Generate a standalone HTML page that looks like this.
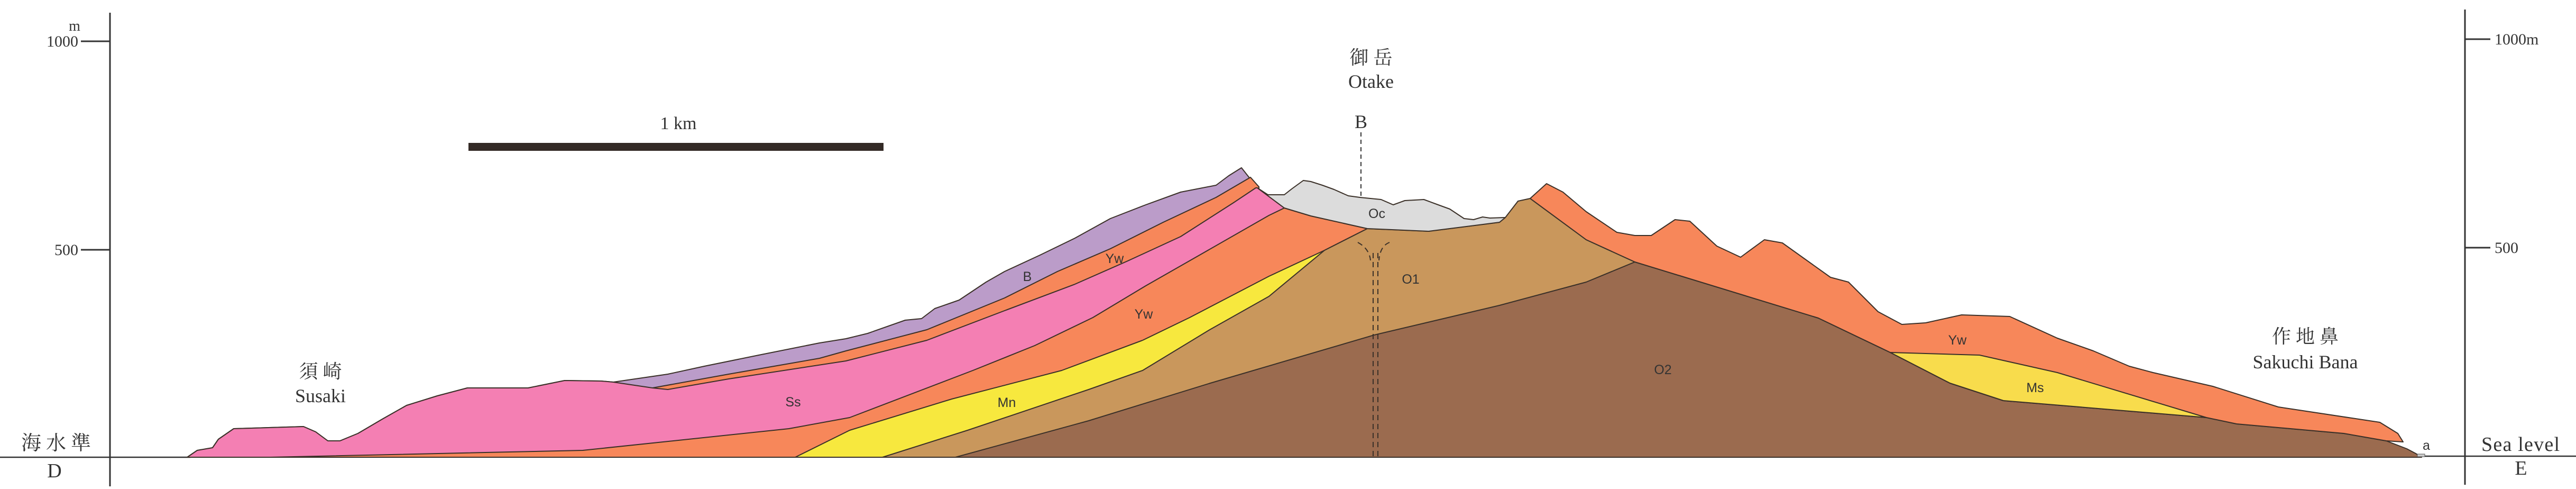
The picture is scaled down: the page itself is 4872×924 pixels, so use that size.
<!DOCTYPE html>
<html><head><meta charset="utf-8"><style>
html,body{margin:0;padding:0;background:#fff;}
svg{display:block;}
.s{font-family:"Liberation Serif","Noto Serif CJK SC",serif;fill:#333;}
.l{font-family:"Liberation Sans",sans-serif;fill:#333;font-size:25px;}
.g{stroke:#3a3028;stroke-width:2;stroke-linejoin:round;}
</style></head><body>
<svg width="4872" height="924" viewBox="0 0 4872 924" xmlns="http://www.w3.org/2000/svg">
<rect width="4872" height="924" fill="#fff"/>
<line x1="208" y1="24" x2="208" y2="919" stroke="#333" stroke-width="3"/>
<line x1="153" y1="78" x2="208" y2="78" stroke="#333" stroke-width="3"/>
<line x1="153" y1="472" x2="208" y2="472" stroke="#333" stroke-width="3"/>
<line x1="4662" y1="18" x2="4662" y2="916" stroke="#333" stroke-width="3"/>
<line x1="4662" y1="74" x2="4710" y2="74" stroke="#333" stroke-width="3"/>
<line x1="4662" y1="468" x2="4710" y2="468" stroke="#333" stroke-width="3"/>
<line x1="0" y1="864" x2="360" y2="864" stroke="#333" stroke-width="2.5"/>
<line x1="4560" y1="862" x2="4872" y2="862" stroke="#333" stroke-width="2.5"/>
<line x1="354" y1="864" x2="4580" y2="863" stroke="#555" stroke-width="2"/>
<text class="s" x="141" y="58" font-size="28" text-anchor="middle">m</text>
<text class="s" x="148" y="88" font-size="30" text-anchor="end">1000</text>
<text class="s" x="148" y="482" font-size="30" text-anchor="end">500</text>
<text class="s" x="4718" y="84" font-size="30">1000m</text>
<text class="s" x="4718" y="478" font-size="30">500</text>
<text class="s" x="40" y="850" font-size="38" textLength="132">海水準</text>
<text class="s" x="103" y="902" font-size="38" text-anchor="middle">D</text>
<text class="s" x="4693" y="852" font-size="38" textLength="148">Sea level</text>
<text class="s" x="4768" y="897" font-size="38" text-anchor="middle">E</text>
<rect x="886" y="270" width="785" height="15" fill="#332a26"/>
<text class="s" x="1283" y="244" font-size="34" text-anchor="middle">1 km</text>
<text class="s" x="606" y="714" font-size="36" text-anchor="middle">須 崎</text>
<text class="s" x="606" y="760" font-size="36" text-anchor="middle">Susaki</text>
<text class="s" x="2593" y="121" font-size="36" text-anchor="middle">御 岳</text>
<text class="s" x="2593" y="166" font-size="36" text-anchor="middle">Otake</text>
<text class="s" x="2574" y="242" font-size="36" text-anchor="middle">B</text>
<line x1="2574" y1="250" x2="2574" y2="372" stroke="#333" stroke-width="2" stroke-dasharray="8,6"/>
<text class="s" x="4360" y="648" font-size="36" text-anchor="middle">作 地 鼻</text>
<text class="s" x="4360" y="696" font-size="36" text-anchor="middle">Sakuchi Bana</text>

<polygon class="g" fill="#bb9cc9" points="354,864 373,851 402,846 413,830 442,810 574,806 597,816 620,833 643,833 677,819 723,792 769,766 827,748 884,733 999,733 1068,719 1137,720 1160,722 1263,707 1332,692 1435,671 1550,648 1600,640 1641,630 1712,605 1743,602 1768,583 1814,567 1865,533 1900,513 1967,482 2033,450 2100,413 2167,387 2233,363 2300,350 2324,332 2348,317 2363,336 2381,353 2381,864"/>
<polygon class="g" fill="#f7875a" points="1234,733 1378,707 1550,677 1600,663 1753,623 1900,563 2000,513 2100,470 2200,420 2300,373 2365,335 2381,353 2381,864 1234,864"/>
<polygon class="g" fill="#f47fb3" points="354,864 373,851 402,846 413,830 442,810 574,806 597,816 620,833 643,833 677,819 723,792 769,766 827,748 884,733 999,733 1068,719 1137,720 1160,722 1234,733 1263,736 1378,716 1600,682 1753,643 1900,587 2033,537 2133,493 2233,447 2333,383 2375,355 2378,355 2429,393 2429,864"/>
<polygon class="g" fill="#f7875a" points="511,864 1102,851 1492,810 1607,789 1840,700 1957,653 2067,600 2167,540 2267,483 2400,407 2429,393 2479,408 2586,432 2586,864"/>
<polygon class="g" fill="#f7e83e" points="1504,864 1607,813 1800,754 2008,700 2161,643 2250,600 2400,522 2505,473 2586,432 2586,864"/>
<polygon class="g" fill="#c9975c" points="1669,864 1830,813 2059,736 2161,700 2288,623 2400,560 2505,473 2586,432 2702,437 2836,420 2847,411 2871,380 2894,375 3000,453 3092,495 3092,864"/>
<polygon class="g" fill="#9b6b4f" points="1807,864 2059,795 2289,724 2599,633 2836,577 3000,533 3092,495 3439,601 3575,666 3688,724 3789,757 4173,789 4230,801 4433,819 4513,833 4552,848 4569,857 4580,864"/>
<polygon class="g" fill="#f7875a" points="2894,375 2925,347 2956,363 3000,400 3058,439 3092,445 3123,445 3168,415 3196,418 3247,465 3292,486 3337,453 3371,459 3462,524 3496,533 3552,589 3597,613 3642,610 3710,595 3801,598 3891,639 3959,663 4027,692 4072,704 4185,730 4309,769 4501,798 4535,819 4545,835 4513,833 4433,819 4230,801 4173,789 3789,757 3688,724 3575,666 3439,601 3092,495 3000,453"/>
<polygon class="g" fill="#f8dc4c" points="3575,666 3744,671 3891,704 4173,789 3789,757 3688,724"/>
<polygon class="g" fill="#dcdcdc" points="2378,355 2398,368 2429,368 2443,357 2465,341 2479,343 2501,350 2523,358 2550,370 2572,373 2612,377 2635,387 2657,379 2693,377 2720,387 2742,395 2769,413 2787,415 2804,410 2818,412 2847,411 2836,420 2702,437 2586,432 2479,408 2429,393"/>
<rect x="4572" y="858" width="14" height="5" fill="#ccc" stroke="#555" stroke-width="1"/>
<text class="l" x="4589" y="850" text-anchor="middle" font-size="24">a</text>
<g stroke="#3a3028" stroke-width="2" fill="none" stroke-dasharray="10,7">
<line x1="2597" y1="478" x2="2597" y2="864"/>
<line x1="2606" y1="478" x2="2606" y2="864"/>
<path d="M2568,458 Q2590,470 2592,492"/>
<path d="M2628,458 Q2610,465 2608,492"/>
</g>
<text class="l" x="1943" y="531" text-anchor="middle">B</text>
<text class="l" x="2108" y="497" text-anchor="middle">Yw</text>
<text class="l" x="2163" y="602" text-anchor="middle">Yw</text>
<text class="l" x="1500" y="768" text-anchor="middle">Ss</text>
<text class="l" x="1904" y="769" text-anchor="middle">Mn</text>
<text class="l" x="2604" y="412" text-anchor="middle">Oc</text>
<text class="l" x="2668" y="536" text-anchor="middle">O1</text>
<text class="l" x="3145" y="707" text-anchor="middle">O2</text>
<text class="l" x="3702" y="651" text-anchor="middle">Yw</text>
<text class="l" x="3849" y="741" text-anchor="middle">Ms</text>
</svg>
</body></html>
